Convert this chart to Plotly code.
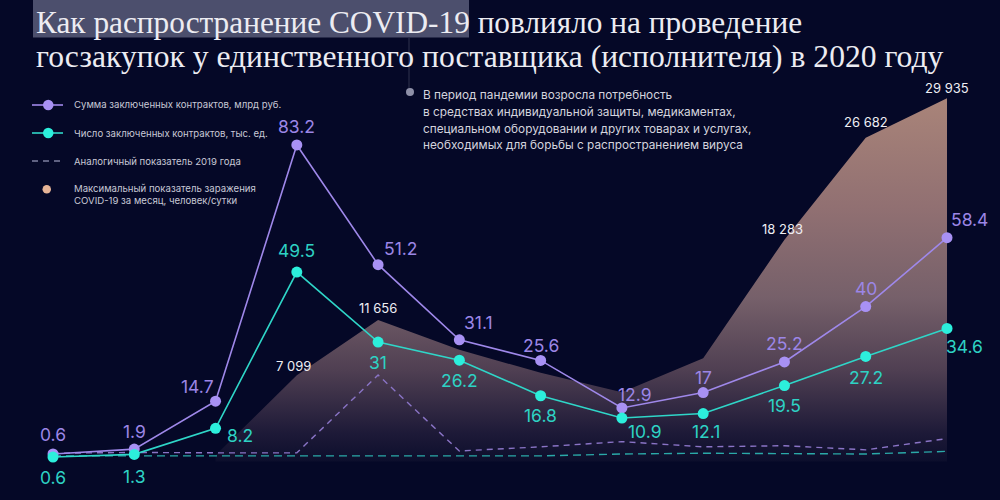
import plotly.graph_objects as go

# ---------------- data ----------------
months = ["Янв", "Фев", "Мар", "Апр", "Май", "Июн", "Июл", "Авг", "Сен", "Окт", "Ноя", "Дек"]
sum_2020 = [0.6, 1.9, 14.7, 83.2, 51.2, 31.1, 25.6, 12.9, 17, 25.2, 40, 58.4]
count_2020 = [0.6, 1.3, 8.2, 49.5, 31, 26.2, 16.8, 10.9, 12.1, 19.5, 27.2, 34.6]
sum_2019 = [0.8, 1.0, 0.9, 0.9, 21.7, 1.4, 2.5, 3.9, 2.5, 2.8, 1.7, 4.7]
count_2019 = [0.9, 0.9, 0.9, 0.9, 0.9, 0.9, 0.9, 1.4, 1.6, 1.5, 1.4, 2.1]
covid_max = [None, None, 500, 7099, 11656, 9200, 7300, 5700, 8500, 18283, 26682, 29935]
covid_labelled = [False, False, False, True, True, False, False, False, False, True, True, True]

title_line1_hl = "Как распространение COVID-19"
title_line1_rest = " повлияло на проведение"
title_line2 = "госзакупок у единственного поставщика (исполнителя) в 2020 году"
note_lines = [
    "В период пандемии возросла потребность",
    "в средствах индивидуальной защиты, медикаментах,",
    "специальном оборудовании и других товарах и услугах,",
    "необходимых для борьбы с распространением вируса",
]
legend_labels = [
    "Сумма заключенных контрактов, млрд руб.",
    "Число заключенных контрактов, тыс. ед.",
    "Аналогичный показатель 2019 года",
    "Максимальный показатель заражения<br>COVID-19 за месяц, человек/сутки",
]

# ---------------- styles ----------------
BG = "#050827"
PURPLE = "#9f88ea"
PURPLE_M = "#a891f4"
TEAL = "#2fd6c8"
TEAL_M = "#2cefdc"
NUMFONT = "Inter"

# label offsets (px) relative to the marker
sum_shift = [(0, 19), (0, 18), (-18, 15), (0, 18), (22, 16), (19, 17), (0, 15),
             (13, 13), (0, 15), (0, 18), (0, 18), (22, 18)]
cnt_shift = [(0, -20), (0, -22), (24, -7), (0, 22), (0, -20), (0, -20), (0, -20),
             (23, -13), (3, -18), (0, -20), (0, -21), (17, -18)]
cov_shift = {3: (-3, 9), 4: (0, 12), 9: (-2, 11), 10: (0, 16), 11: (0, 10)}

fig = go.Figure()

# COVID area (base axis)
cx = [m for m, v in zip(months, covid_max) if v is not None]
cy = [v for v in covid_max if v is not None]
fig.add_trace(go.Scatter(
    x=cx, y=cy, mode="lines", line=dict(width=0, color="#a88379"),
    fill="tozeroy",
    fillgradient=dict(type="vertical", colorscale=[
        [0.0, "#0c0e2c"], [0.08, "#1e1a38"], [0.25, "#4f3f52"], [0.45, "#76606a"],
        [0.7, "#917072"], [1.0, "#a98479"]]),
    hoverinfo="skip", xaxis="x", yaxis="y"))

# purple axis (y2)
fig.add_trace(go.Scatter(x=months, y=sum_2019, mode="lines",
                         line=dict(color="#8a74c6", width=1.4, dash="6px,5px"),
                         hoverinfo="skip", yaxis="y2"))
fig.add_trace(go.Scatter(x=months, y=sum_2020, mode="lines+markers",
                         line=dict(color=PURPLE, width=1.6),
                         marker=dict(size=11, color=PURPLE_M),
                         hoverinfo="skip", yaxis="y2"))
# teal axis (y3)
fig.add_trace(go.Scatter(x=months, y=count_2019, mode="lines",
                         line=dict(color="#2aa9a8", width=1.4, dash="8px,5px"),
                         hoverinfo="skip", yaxis="y3"))
fig.add_trace(go.Scatter(x=months, y=count_2020, mode="lines+markers",
                         line=dict(color=TEAL, width=1.6),
                         marker=dict(size=11, color=TEAL_M),
                         hoverinfo="skip", yaxis="y3"))

ann = []
for i, (m, v) in enumerate(zip(months, sum_2020)):
    ann.append(dict(x=m, y=v, xref="x", yref="y2", text=str(v), showarrow=False,
                    xshift=sum_shift[i][0], yshift=sum_shift[i][1],
                    font=dict(family=NUMFONT, size=17.5, color="#9c86e6")))
for i, (m, v) in enumerate(zip(months, count_2020)):
    ann.append(dict(x=m, y=v, xref="x", yref="y3", text=str(v), showarrow=False,
                    xshift=cnt_shift[i][0], yshift=cnt_shift[i][1],
                    font=dict(family=NUMFONT, size=17.5, color="#2ed2c4")))
for i, (m, v) in enumerate(zip(months, covid_max)):
    if v is not None and covid_labelled[i]:
        ann.append(dict(x=m, y=v, xref="x", yref="y",
                        text=f"{v:,}".replace(",", " "), showarrow=False,
                        xshift=cov_shift[i][0], yshift=cov_shift[i][1],
                        font=dict(family=NUMFONT, size=13, color="#eeeef4")))

# title
ann.append(dict(x=34 / 1000, y=1 - 22 / 500, xref="paper", yref="paper", xanchor="left",
                yanchor="middle", showarrow=False,
                text=title_line1_hl + title_line1_rest,
                font=dict(family="Liberation Serif", size=31.3, color="#ececf2")))
ann.append(dict(x=34 / 1000, y=1 - 57 / 500, xref="paper", yref="paper", xanchor="left",
                yanchor="middle", showarrow=False, text=title_line2,
                font=dict(family="Liberation Serif", size=31.6, color="#ececf2")))

# note
note_y = [95, 112, 128.5, 145]
for t, yy in zip(note_lines, note_y):
    ann.append(dict(x=421 / 1000, y=1 - yy / 500, xref="paper", yref="paper",
                    xanchor="left", yanchor="middle", showarrow=False, text=t,
                    font=dict(family="Inter", size=11.8, color="#d4d4de")))

# legend texts
leg_y = [105, 133, 161, 194]
for t, yy in zip(legend_labels, leg_y):
    ann.append(dict(x=72 / 1000, y=1 - yy / 500, xref="paper", yref="paper",
                    xanchor="left", yanchor="middle", showarrow=False, text=t, align="left",
                    font=dict(family="Inter", size=9.6, color="#c8c8d6")))

shapes = [
    # title highlight
    dict(type="rect", xref="paper", yref="paper", x0=33 / 1000, x1=469 / 1000,
         y0=1 - 37.5 / 500, y1=1.0, fillcolor="#4c4f6d", line=dict(width=0), layer="below"),
    # note leader line + dot
    dict(type="line", xref="paper", yref="paper", x0=409 / 1000, x1=409 / 1000,
         y0=1 - 88 / 500, y1=1 - 38 / 500, line=dict(color="#30334f", width=1)),
    dict(type="circle", xref="paper", yref="paper", x0=406 / 1000, x1=414 / 1000,
         y0=1 - 96 / 500, y1=1 - 88 / 500, fillcolor="#8e90a8", line=dict(width=0)),
    # legend symbols
    dict(type="line", xref="paper", yref="paper", x0=32 / 1000, x1=63 / 1000,
         y0=1 - 105 / 500, y1=1 - 105 / 500, line=dict(color=PURPLE, width=1.6)),
    dict(type="circle", xref="paper", yref="paper", x0=43 / 1000, x1=53.5 / 1000,
         y0=1 - 110.2 / 500, y1=1 - 99.8 / 500, fillcolor=PURPLE_M, line=dict(width=0)),
    dict(type="line", xref="paper", yref="paper", x0=32 / 1000, x1=63 / 1000,
         y0=1 - 133 / 500, y1=1 - 133 / 500, line=dict(color=TEAL, width=1.6)),
    dict(type="circle", xref="paper", yref="paper", x0=43 / 1000, x1=53.5 / 1000,
         y0=1 - 138.2 / 500, y1=1 - 127.8 / 500, fillcolor=TEAL_M, line=dict(width=0)),
    dict(type="line", xref="paper", yref="paper", x0=32 / 1000, x1=61 / 1000,
         y0=1 - 161 / 500, y1=1 - 161 / 500,
         line=dict(color="#7e7fa0", width=1.3, dash="6px,5px")),
    dict(type="circle", xref="paper", yref="paper", x0=42.5 / 1000, x1=51 / 1000,
         y0=1 - 193.5 / 500, y1=1 - 185 / 500, fillcolor="#e6b497", line=dict(width=0)),
]

axis_common = dict(showgrid=False, zeroline=False, showticklabels=False, showline=False,
                   ticks="", fixedrange=True)
fig.update_layout(
    width=1000, height=500,
    margin=dict(l=0, r=0, t=0, b=0, pad=0),
    paper_bgcolor=BG, plot_bgcolor=BG,
    showlegend=False,
    xaxis=dict(type="category", categoryorder="array", categoryarray=months,
               range=[-0.652, 11.652], **axis_common),
    yaxis=dict(range=[-3182, 38038], **axis_common),
    yaxis2=dict(range=[-11.71, 121.95], overlaying="y", **axis_common),
    yaxis3=dict(range=[-10.76, 121.41], overlaying="y", **axis_common),
    annotations=ann,
    shapes=shapes,
)

fig.write_html(
    "out.html",
    config={"displayModeBar": False},
    post_script="document.body.style.margin='0';document.body.style.background='" + BG + "';",
)
